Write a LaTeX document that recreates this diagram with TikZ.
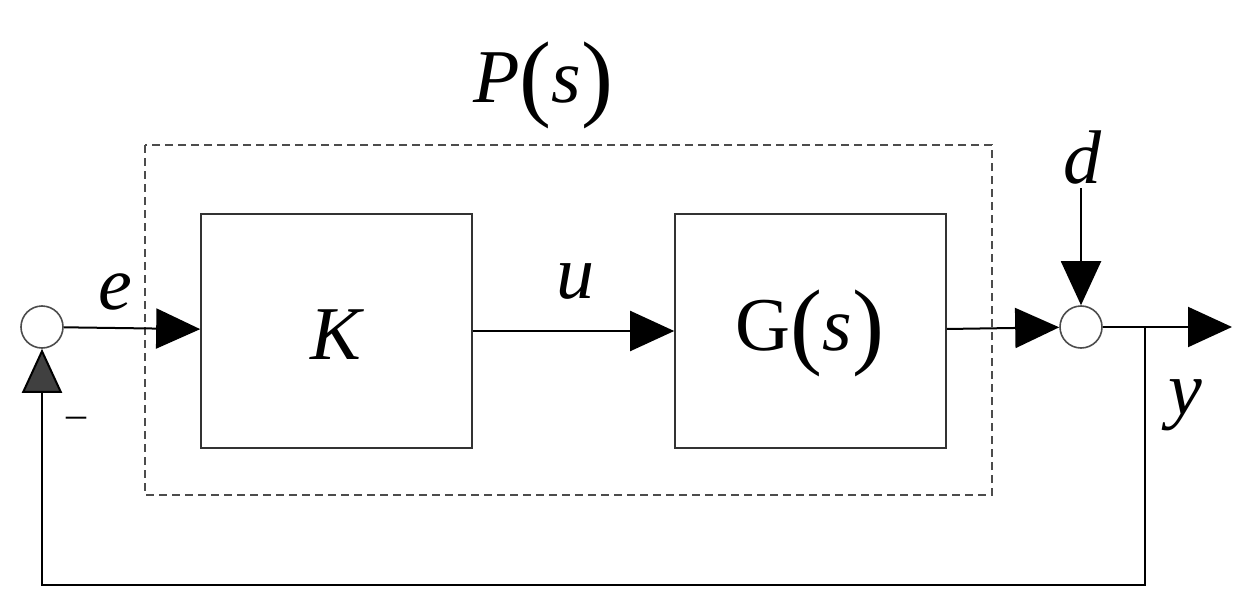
\documentclass[tikz,border=0pt]{standalone}
\usepackage{fontspec}
\setmainfont{Liberation Serif}
\usetikzlibrary{arrows.meta}
\newcommand{\bpar}[1]{{\fontsize{96}{96}\selectfont\upshape\raisebox{-6pt}{#1}}}
\begin{document}
\begin{tikzpicture}[x=1pt,y=-1pt,line width=2pt,
  arr/.style={-{Triangle[length=44pt,width=40pt]}},
  blk/.style={draw=black!80,line width=1.6pt,minimum width=271pt,minimum height=234pt,inner sep=0pt},
  sum/.style={circle,draw=black!70,line width=1.6pt,minimum size=42pt,inner sep=0pt},
  lab/.style={font=\fontsize{76}{80}\selectfont\itshape,inner sep=0pt}]
\useasboundingbox (0,0) rectangle (1249,607);
\draw[dashed,black!70,line width=2pt,dash pattern=on 8pt off 5pt] (145,145) rectangle (992,495);
\node[sum] (s1) at (42,327) {};
\node[sum] (s2) at (1081,327) {};
\node[blk] (K) at (336.5,331) {};
\node[blk] (G) at (810.5,331) {};
\node[lab] at (336,335) {K};
\node[lab] at (810,333) {\upshape G\bpar{(}\itshape s\bpar{)}};
\node[lab] at (543,85) {P\bpar{(}s\bpar{)}};
\node[lab] (el) at (115,292) {e};
\node[lab] (ul) at (575,282) {u};
\node[lab] (dl) at (1082,158) {d};
\node[lab] (yl) at (1185,405) {y};
\node[font=\fontsize{40}{40}\selectfont,inner sep=0pt] (mi) at (76,422) {–};
\coordinate (dtop) at (1081,188);
\coordinate (yend) at (1232,327);
\coordinate (br) at (1145,327);
\coordinate (c1) at (1145,585);
\coordinate (c2) at (42,585);
\draw[arr] (s1) -- (K);
\draw[arr] (K) -- (G);
\draw[arr] (G) -- (s2);
\draw[arr] (dtop) -- (s2);
\draw[arr] (s2) -- (yend);
\draw[arr,-{Triangle[length=44pt,width=40pt,fill=black!75]},draw=black] (br) -- (c1) -- (c2) -- (s1);
\end{tikzpicture}
\end{document}
